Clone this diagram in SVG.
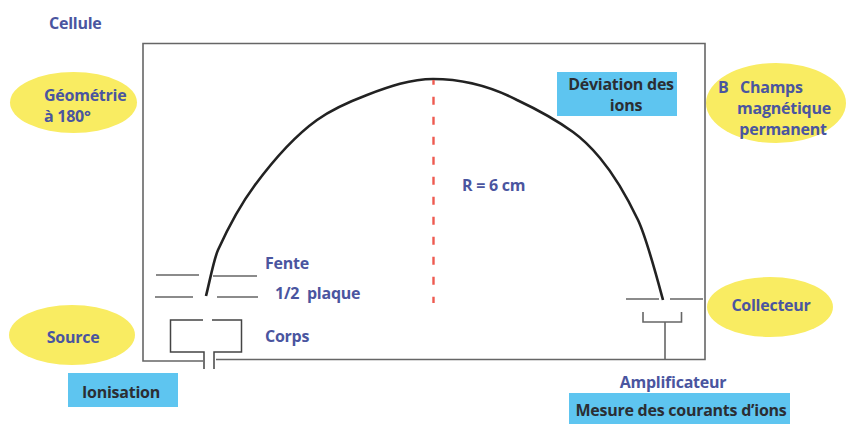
<svg xmlns="http://www.w3.org/2000/svg" width="846" height="424" viewBox="0 0 846 424">
<style>
text{font-family:"Open Sans","Noto Sans","Liberation Sans",sans-serif;font-weight:700;font-size:16px;letter-spacing:-.25px}
.b{fill:#4a559f}.d{fill:#2b2e33}.m{text-anchor:middle}
.y{fill:#f9ec62}.c{fill:#5ec5f0}
.l{fill:none;stroke:#666;stroke-width:1.6}
.k{fill:none;stroke:#444;stroke-width:1.5}
</style>
<rect width="846" height="424" fill="#fff"/>
<g id="connectors">
<path id="frame" class="l" d="M203 361H143V43.500H705V359.500H216"/>
<path id="arc" fill="none" stroke="#222" stroke-width="2.600" d="M206 296C210 280 214 258.800 218 250C230.300 222.900 242.700 201.600 255 185C275.700 157.100 296.300 134.900 317 120C333.700 108 350.300 101.300 367 95C389 86.600 411 79 433 79C461 79 489 85.500 517 100C535.700 108.800 554.300 118.600 573 132C582 138.500 591 147.200 600 158C612.700 173.200 625.300 193.400 638 220C646.300 237.500 654.700 269.200 663 300"/>
<path id="radius" fill="none" stroke="#ee5a50" stroke-width="2.400" stroke-dasharray="8 12" stroke-dashoffset="3.300" d="M433.500 80V303"/>
<g id="slits" class="l">
<path d="M156 275H199M213 276H257M155 297H193M217 297H258"/>
<path d="M626 299H659M670 299H703"/>
</g>
<path id="body" class="k" d="M203 320H170.500V352H204V369M212 320H241.500V352H214V369"/>
<path id="collector" class="l" d="M643 312V322H681.500V312M665 322V359"/>
</g>
<g id="cellule"><text class="b" x="49" y="29">Cellule</text></g>
<g id="geometrie"><ellipse class="y" cx="73.500" cy="102.500" rx="63.500" ry="30.500"/><text class="b" x="44" y="101">Géométrie</text><text class="b" x="44" y="122">à 180°</text></g>
<g id="source"><ellipse class="y" cx="72" cy="335" rx="63" ry="30"/><text class="b m" x="73" y="343">Source</text></g>
<g id="ionisation"><rect class="c" x="68" y="373" width="110" height="34"/><text class="d m" x="121" y="398">Ionisation</text></g>
<g id="fente"><text class="b" x="265" y="269">Fente</text></g>
<g id="plaque"><text class="b" x="275" y="299" xml:space="preserve">1/2  plaque</text></g>
<g id="corps"><text class="b" x="265" y="342">Corps</text></g>
<g id="rayon"><text class="b" x="462" y="191">R = 6 cm</text></g>
<g id="deviation"><rect class="c" x="557" y="72" width="120" height="44"/><text class="d m" x="621" y="90">Déviation des</text><text class="d m" x="626" y="111">ions</text></g>
<g id="champs"><ellipse class="y" cx="776" cy="103" rx="70" ry="40"/><text class="b" x="718" y="93">B</text><text class="b" x="740" y="93">Champs</text><text class="b m" x="784" y="114">magnétique</text><text class="b m" x="783" y="135">permanent</text></g>
<g id="collecteur"><ellipse class="y" cx="770" cy="307" rx="63" ry="30"/><text class="b m" x="771" y="311">Collecteur</text></g>
<g id="amplificateur"><text class="b m" x="673" y="388">Amplificateur</text></g>
<g id="mesure"><rect class="c" x="569" y="393" width="221" height="31"/><text class="d m" x="681" y="416">Mesure des courants d’ions</text></g>
</svg>
